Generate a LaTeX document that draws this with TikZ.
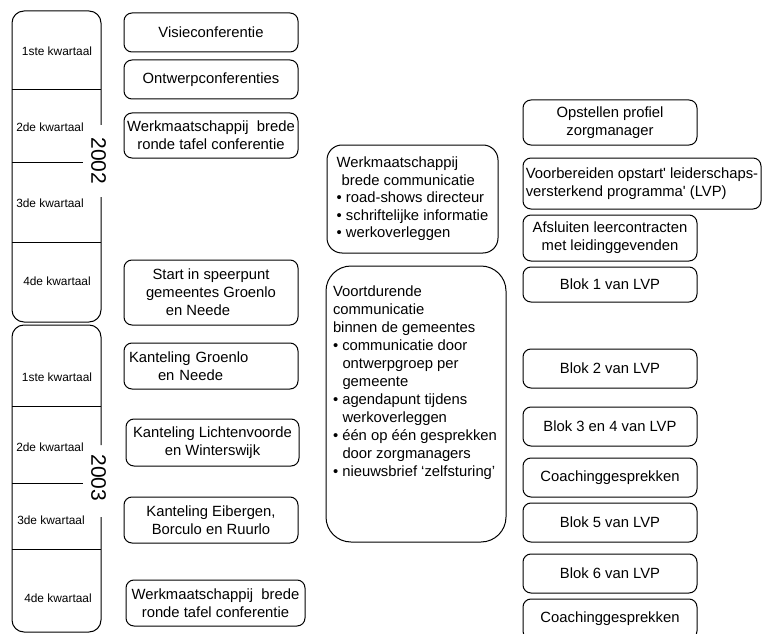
\documentclass[tikz,border=0pt]{standalone}
\usepackage{fontspec}
\setmainfont{Liberation Sans}
\begin{document}
\begin{tikzpicture}[x=1pt,y=-1pt,
  every node/.style={inner sep=0pt, outer sep=0pt},
  tbox/.style={draw, line width=1pt, rounded corners=8pt, align=center,
    font=\fontsize{14.8}{18}\selectfont},
  combox/.style={draw, line width=1pt, align=left,
    font=\fontsize{14.8}{17.5}\selectfont},
  qlabel/.style={font=\fontsize{11.9}{14}\selectfont},
  yearlabel/.style={rotate=-90, font=\fontsize{21}{24}\selectfont},
  yearframe/.style={line width=1pt, rounded corners=12pt},
  qsep/.style={line width=1pt}]
\useasboundingbox (0,0) rectangle (764,634);
\clip (0,0) rectangle (764,634);

% ---- year 2002: frame, quarter separators, labels
\draw[yearframe] (101,125) -- (101,11) -- (12,11) -- (12,322) -- (101,322) -- (101,197);
\draw[qsep] (12,90) -- (101,90);
\draw[qsep] (12,162) -- (83,162);
\draw[qsep] (12,242) -- (101,242);
\node[yearlabel] (y2002) at (98.5,161) {2002};
\node[qlabel] (q21) at (57,51) {1ste kwartaal};
\node[qlabel] (q22) at (50,127) {2de kwartaal};
\node[qlabel] (q23) at (50,203) {3de kwartaal};
\node[qlabel] (q24) at (57,281) {4de kwartaal};

% ---- year 2003
\draw[yearframe] (101,445) -- (101,325) -- (12,325) -- (12,632) -- (101,632) -- (101,517);
\draw[qsep] (12,406) -- (101,406);
\draw[qsep] (12,483) -- (83,483);
\draw[qsep] (12,549) -- (101,549);
\node[yearlabel] (y2003) at (98.5,478) {2003};
\node[qlabel] (q31) at (57,377) {1ste kwartaal};
\node[qlabel] (q32) at (50,447) {2de kwartaal};
\node[qlabel] (q33) at (51,520) {3de kwartaal};
\node[qlabel] (q34) at (58,598) {4de kwartaal};

% ---- events column
\node[tbox, minimum width=174pt, minimum height=39pt] (visie) at (211,32.5) {Visieconferentie};
\node[tbox, minimum width=174pt, minimum height=39pt] (ontwerp) at (211,79.5) {Ontwerpconferenties};
\node[tbox, minimum width=174pt, minimum height=45pt] (rtafel1) at (211,135.5)
  {Werkmaatschappij\ \ brede\\ronde tafel conferentie};
\node[tbox, minimum width=174pt, minimum height=65pt] (speerpunt) at (211,292.5)
  {Start in speerpunt\\gemeentes Groenlo\\\hbox{en Neede\kern26pt}};
\node[tbox, minimum width=174pt, minimum height=46pt, text width=164pt, align=left, inner xsep=5pt]
  (kgroenlo) at (211,366) {Kanteling Groenlo\\\hspace*{29pt}en Neede};
\node[tbox, minimum width=173pt, minimum height=47pt] (klichten) at (212.5,442.5)
  {Kanteling Lichtenvoorde\\en Winterswijk};
\node[tbox, minimum width=174pt, minimum height=46pt] (keibergen) at (211,520)
  {Kanteling Eibergen,\\Borculo en Ruurlo};
\node[tbox, minimum width=179pt, minimum height=46pt] (rtafel2) at (215.5,603)
  {Werkmaatschappij\ \ brede\\ronde tafel conferentie};

% ---- communication column
\node[combox, rounded corners=15pt, minimum width=171pt, minimum height=108pt] (wbcom) at (412.5,199)
  {Werkmaatschappij\\\hspace*{5pt}brede communicatie\\• road-shows directeur\\• schriftelijke informatie\\• werkoverleggen};
\node[draw, line width=1pt, rounded corners=25pt, minimum width=180pt, minimum height=276pt] (vcom) at (416,404) {};
\node[anchor=north west, align=left, font=\fontsize{14.8}{18}\selectfont] (vcomtext) at (333,286)
  {Voortdurende\\communicatie\\binnen de gemeentes\\• communicatie door\\\hspace*{9.5pt}ontwerpgroep per\\\hspace*{9.5pt}gemeente\\• agendapunt tijdens\\\hspace*{9.5pt}werkoverleggen\\• één op één gesprekken\\\hspace*{9.5pt}door zorgmanagers\\• nieuwsbrief `zelfsturing'};

% ---- leadership programme column
\node[tbox, minimum width=174pt, minimum height=45pt] (profiel) at (610,122.5) {Opstellen profiel\\zorgmanager};
\node[tbox, align=left, minimum width=238pt, minimum height=51pt] (voorber) at (642,183.5)
  {Voorbereiden opstart\textquotesingle{} leiderschaps-\\versterkend programma\textquotesingle{} (LVP)};
\node[tbox, minimum width=174pt, minimum height=46pt] (leercon) at (610,238) {Afsluiten leercontracten\\met leidinggevenden};
\node[tbox, minimum width=174pt, minimum height=35pt] (blok1) at (610,284.5) {Blok 1 van LVP};
\node[tbox, minimum width=174pt, minimum height=39pt] (blok2) at (610,368.5) {Blok 2 van LVP};
\node[tbox, minimum width=174pt, minimum height=39pt] (blok34) at (610,426.5) {Blok 3 en 4 van LVP};
\node[tbox, minimum width=174pt, minimum height=39pt] (coach1) at (610,477.5) {Coachinggesprekken};
\node[tbox, minimum width=174pt, minimum height=39pt] (blok5) at (610,522.5) {Blok 5 van LVP};
\node[tbox, minimum width=174pt, minimum height=39pt] (blok6) at (610,573.5) {Blok 6 van LVP};
\node[tbox, minimum width=174pt, minimum height=40pt] (coach2) at (610,619) {Coachinggesprekken};
\end{tikzpicture}
\end{document}
